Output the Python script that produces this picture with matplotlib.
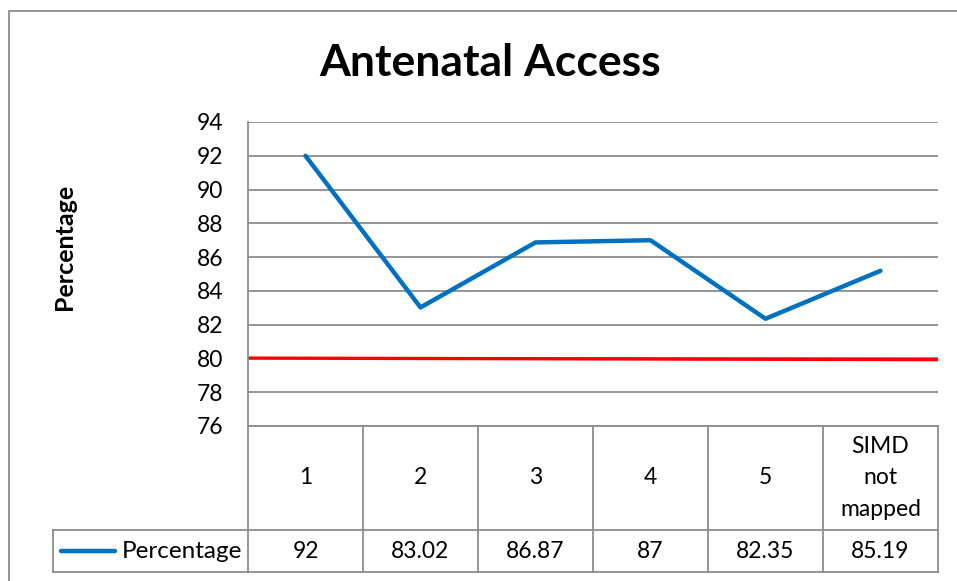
import matplotlib.pyplot as plt
from matplotlib.lines import Line2D

plt.rcParams["font.family"] = ["Lato", "DejaVu Sans"]

# data
categories = ["1", "2", "3", "4", "5", "SIMD\nnot\nmapped"]
percentage = [92, 83.02, 86.87, 87, 82.35, 85.19]
value_labels = ["92", "83.02", "86.87", "87", "82.35", "85.19"]
target_ends = [80.02, 79.93]  # red reference line, left / right end
yticks = list(range(76, 96, 2))

GRID = "#8c8c8c"
BLUE = "#0070C0"
FS = 16.5

fig = plt.figure(figsize=(9.57, 5.81), dpi=100)
ax = fig.add_axes([248 / 957, 1 - 426 / 581, 690 / 957, 304 / 581])

n = len(categories)
x = list(range(n))
ax.plot(x, percentage, color=BLUE, lw=3.2, solid_capstyle="round", zorder=3)
ax.plot([-0.5, n - 0.5], target_ends, color="#FF0000", lw=2.4, zorder=2)

ax.set_xlim(-0.5, n - 0.5)
ax.set_ylim(76, 94)
ax.set_yticks(yticks)
ax.set_yticklabels([str(t) for t in yticks], fontsize=FS)
ax.tick_params(axis="y", length=0, pad=18)
ax.set_xticks([])
ax.yaxis.grid(True, color=GRID, lw=1.3)
ax.set_axisbelow(True)
for s in ["top", "right", "bottom"]:
    ax.spines[s].set_visible(False)
ax.spines["left"].set_color(GRID)
ax.spines["left"].set_linewidth(1.3)

fig.text(490 / 957, 1 - 63 / 581, "Antenatal Access", ha="center", va="center",
         fontsize=32, fontweight="bold")
fig.text(64 / 957, 1 - 247 / 581, "Percentage", ha="center", va="center",
         rotation=90, fontsize=18, fontweight="bold")

# data table under the plot
tr = ax.get_xaxis_transform()
row1 = -104 / 304
row2 = -146 / 304
legend_left = -0.5 - (195 / 690) * n
kw = dict(color=GRID, lw=1.3, transform=tr, clip_on=False)
ax.add_line(Line2D([-0.5, n - 0.5], [0, 0], **kw))
ax.add_line(Line2D([legend_left, n - 0.5], [row1, row1], **kw))
ax.add_line(Line2D([legend_left, n - 0.5], [row2, row2], **kw))
ax.add_line(Line2D([legend_left, legend_left], [row1, row2], **kw))
for b in range(n + 1):
    ax.add_line(Line2D([b - 0.5, b - 0.5], [0, row2], **kw))

for i in range(n):
    ax.text(i, row1 / 2, categories[i], transform=tr, ha="center", va="center",
            fontsize=FS, linespacing=1.6)
    ax.text(i, (row1 + row2) / 2, value_labels[i], transform=tr, ha="center",
            va="center", fontsize=FS)

# legend key inside the table
key_x0 = legend_left + (8 / 690) * n
key_x1 = legend_left + (62 / 690) * n
ymid = (row1 + row2) / 2
ax.add_line(Line2D([key_x0, key_x1], [ymid, ymid], color=BLUE, lw=3.2,
                   solid_capstyle="round", transform=tr, clip_on=False))
ax.text(-0.5 - (6 / 690) * n, ymid, "Percentage", transform=tr, ha="right",
        va="center", fontsize=17.5)

# chart border
border = plt.Rectangle((9 / 957, -0.1), 1.2, 1 - 11 / 581 + 0.1,
                       transform=fig.transFigure, fill=False, ec=GRID, lw=1.3)
fig.add_artist(border)

fig.savefig("out.png", dpi=100)
